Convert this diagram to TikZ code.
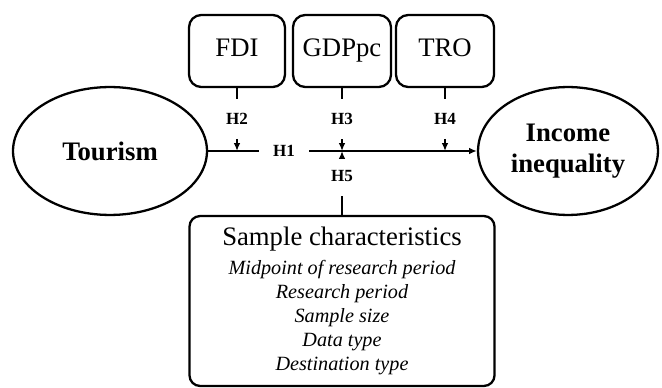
\documentclass[tikz,border=0pt]{standalone}
\usepackage{fontspec}
\setmainfont{Liberation Serif}
\usetikzlibrary{arrows.meta,positioning,shapes.geometric}

\begin{document}
\begin{tikzpicture}[x=0.02cm,y=-0.02cm,line width=1.3pt,
  var/.style={draw,rounded corners=7pt,minimum width=54.6pt,minimum height=41pt,inner sep=0pt,
    text height=0.66em,text depth=0pt,font=\fontsize{15.2}{17}\selectfont},
  oval/.style={draw,ellipse,inner sep=0pt,minimum height=72.8pt,align=center,font=\fontsize{15.2}{17.6}\selectfont\bfseries},
  hyp/.style={inner xsep=7.4pt,inner ysep=7.5pt,font=\fontsize{9.7}{11}\selectfont\bfseries},
  >={Latex[length=4.5pt,width=3.8pt]}]
\useasboundingbox (0,0) rectangle (662,388);
\node[oval,minimum width=110.4pt] (tourism) at (110,151) {Tourism};
\node[oval,minimum width=102.4pt] (income) at (568,151) {Income\\inequality};
\node[var] (fdi) at (237,51) {FDI};
\node[var,minimum width=55.8pt] (gdppc) at (342,51) {GDPpc};
\node[var,minimum width=55.8pt] (tro) at (445,51) {TRO};
\node[hyp] (h1) at (284,151) {H1};
\node[hyp] (h2) at (237,119) {H2};
\node[hyp] (h3) at (342,119) {H3};
\node[hyp] (h4) at (445,119) {H4};
\node[hyp] (h5) at (342,176) {H5};
\node[draw,rounded corners=6pt,minimum width=173.6pt,minimum height=96.7pt,align=center,
  font=\fontsize{11.5}{13.7}\selectfont\itshape] (sample) at (342,301)
  {{\upshape\fontsize{15.2}{17}\selectfont Sample characteristics}\\[2.8pt]
   Midpoint of research period\\Research period\\Sample size\\Data type\\Destination type};
\draw (tourism) -- (h1);
\draw[->] (h1) -- (income);
\draw (fdi) -- (h2);
\draw[->] (h2) -- (h2 |- h1);
\draw (gdppc) -- (h3);
\draw[->] (h3) -- (h3 |- h1);
\draw (tro) -- (h4);
\draw[->] (h4) -- (h4 |- h1);
\draw (sample) -- (h5);
\draw[->] (h5) -- (h5 |- h1);
\end{tikzpicture}
\end{document}
